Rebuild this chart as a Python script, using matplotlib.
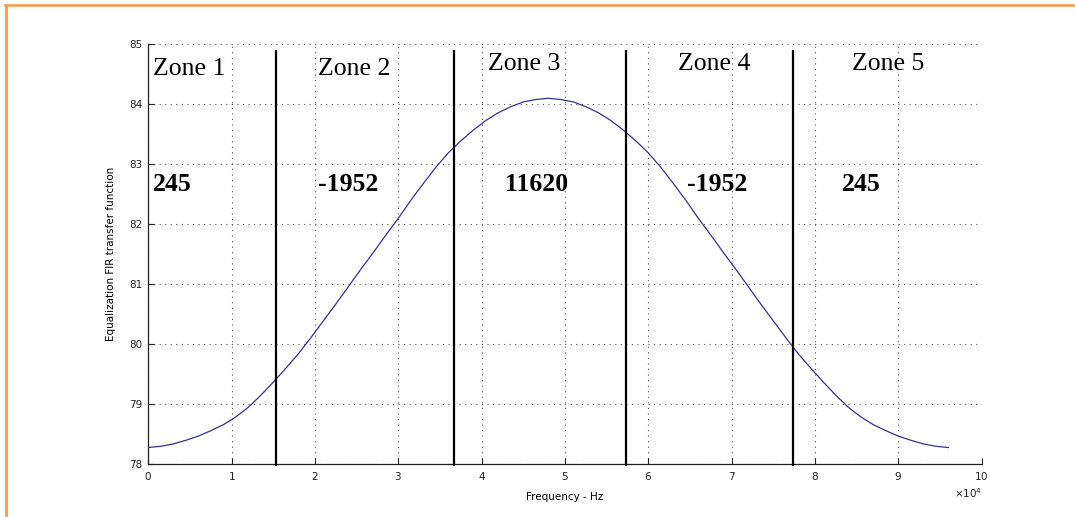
import matplotlib
matplotlib.use("Agg")
import matplotlib.pyplot as plt
from matplotlib.lines import Line2D

# Equalization FIR magnitude response, sampled every 1.5 kHz
freq_hz = [0, 1500, 3000, 4500, 6000, 7500, 9000, 10500, 12000, 13500,
           15000, 16500, 18000, 19500, 21000, 22500, 24000, 25500, 27000,
           28500, 30000, 31500, 33000, 34500, 36000, 37500, 39000, 40500,
           42000, 43500, 45000, 46500, 48000, 49500, 51000, 52500, 54000,
           55500, 57000, 58500, 60000, 61500, 63000, 64500, 66000, 67500,
           69000, 70500, 72000, 73500, 75000, 76500, 78000, 79500, 81000,
           82500, 84000, 85500, 87000, 88500, 90000, 91500, 93000, 94500,
           96000]
response = [78.28, 78.30, 78.34, 78.40, 78.47, 78.56, 78.66, 78.79, 78.95,
            79.15, 79.37, 79.60, 79.84, 80.11, 80.39, 80.67, 80.96, 81.25,
            81.53, 81.82, 82.10, 82.40, 82.68, 82.95, 83.19, 83.39, 83.57,
            83.73, 83.86, 83.96, 84.04, 84.08, 84.10, 84.08, 84.04, 83.96,
            83.86, 83.73, 83.57, 83.39, 83.19, 82.95, 82.68, 82.40, 82.10,
            81.82, 81.53, 81.25, 80.96, 80.67, 80.39, 80.11, 79.84, 79.60,
            79.37, 79.15, 78.95, 78.79, 78.66, 78.56, 78.47, 78.40, 78.34,
            78.30, 78.28]

# Zone boundaries and per-zone coefficients
zone_edges_hz = [15320, 36700, 57350, 77300]
zone_names = ["Zone 1", "Zone 2", "Zone 3", "Zone 4", "Zone 5"]
zone_coeffs = ["245", "-1952", "11620", "-1952", "245"]

x_ticks = [0, 10000, 20000, 30000, 40000, 50000, 60000, 70000, 80000, 90000, 100000]
y_ticks = [78, 79, 80, 81, 82, 83, 84, 85]

# Label placement (x in Hz, baseline y)
name_pos = [(560, 84.49), (20370, 84.49), (40770, 84.57), (63570, 84.57), (84410, 84.58)]
coeff_pos = [(560, 82.55), (20370, 82.55), (42800, 82.55), (64610, 82.55), (83210, 82.55)]

W, H = 1075, 517
fig = plt.figure(figsize=(W / 100, H / 100), dpi=100)
fig.patch.set_facecolor("white")
ax = fig.add_axes([148.3 / W, 1 - 464.3 / H, (981.7 - 148.3) / W, 420 / H])

ax.plot(freq_hz, response, color="#34348c", linewidth=0.9, zorder=3)

for edge in zone_edges_hz:
    ax.vlines(edge, 77.97, 84.9, colors="black", linewidth=1.6, zorder=4, clip_on=False)

for name, (px, py) in zip(zone_names, name_pos):
    ax.text(px, py, name, fontsize=18.5, family="Liberation Serif",
            ha="left", va="baseline", color="black", zorder=5)
for coeff, (px, py) in zip(zone_coeffs, coeff_pos):
    ax.text(px, py, coeff, fontsize=18.5, family="Liberation Serif", fontweight="bold",
            ha="left", va="baseline", color="black", zorder=5)

ax.set_xlim(0, 100000)
ax.set_ylim(78, 85)
ax.set_xticks(x_ticks)
ax.set_yticks(y_ticks)
ax.ticklabel_format(axis="x", style="sci", scilimits=(4, 4), useMathText=True)
ax.xaxis.get_offset_text().set_fontsize(7.5)

ax.grid(True, color="#555555", linestyle=(0, (1, 4)), linewidth=0.8)
ax.set_axisbelow(True)
for side in ("top", "right"):
    ax.spines[side].set_visible(False)
for side in ("left", "bottom"):
    ax.spines[side].set_color("#222222")
    ax.spines[side].set_linewidth(0.9)
ax.tick_params(direction="in", length=4, width=0.8, labelsize=7.5, pad=4,
               colors="#222222")

ax.set_xlabel("Frequency - Hz", fontsize=7.5, labelpad=7)
ax.set_ylabel("Equalization FIR transfer function", fontsize=7.5, labelpad=10)

# Orange frame along the top and left edges
orange = "#f79646"
fig.add_artist(Line2D([5 / W, 1], [1 - 5 / H, 1 - 5 / H], transform=fig.transFigure,
                      color=orange, linewidth=1.8))
fig.add_artist(Line2D([6.3 / W, 6.3 / W], [0, 1 - 5 / H], transform=fig.transFigure,
                      color=orange, linewidth=1.9))

fig.savefig("out.png", dpi=100, facecolor="white")
